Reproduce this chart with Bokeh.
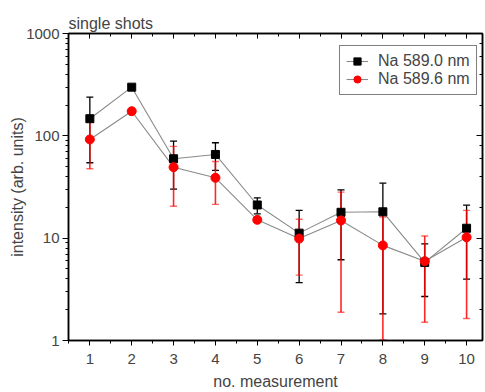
from bokeh.plotting import figure
from bokeh.models import (ColumnDataSource, Whisker, TeeHead, LogAxis, LinearAxis,
                          FixedTicker, NumeralTickFormatter, Legend, LegendItem, LogTicker,
                          CustomJSTickFormatter)
from bokeh.embed import file_html
from bokeh.resources import INLINE

# ---- data ----
measurement = [1, 2, 3, 4, 5, 6, 7, 8, 9, 10]
na_5890 = [147, 299, 59.7, 65.8, 21.1, 11.2, 17.9, 18.1, 5.8, 12.5]
na_5896 = [92.2, 174, 49.4, 38.9, 15.1, 9.9, 14.9, 8.5, 5.96, 10.2]

err_x_5890 = [1, 3, 4, 5, 6, 7, 8, 9, 10]
err_hi_5890 = [239, 88.8, 85.6, 24.8, 18.7, 29.7, 34.5, 8.8, 21.0]
err_lo_5890 = [54.6, 30.1, 45.9, 17.3, 3.67, 6.15, 1.82, 2.69, 3.98]

err_x_5896 = [1, 3, 4, 6, 7, 8, 9, 10]
err_hi_5896 = [136, 78.8, 56.2, 15.3, 28.2, 16.1, 10.5, 18.7]
err_lo_5896 = [47.7, 20.5, 21.4, 4.35, 1.89, 1.01, 1.51, 1.64]

x_ticks = [1, 2, 3, 4, 5, 6, 7, 8, 9, 10]
x_minor = [0.5, 1.5, 2.5, 3.5, 4.5, 5.5, 6.5, 7.5, 8.5, 9.5, 10.5]

title_text = "single shots"
x_label = "no. measurement"
y_label = "intensity (arb. units)"
labels = ["Na 589.0 nm", "Na 589.6 nm"]

FONT = "Liberation Sans"

p = figure(width=485, height=392, output_backend="svg", toolbar_location=None,
           y_axis_type="log", x_range=(0.49, 10.38), y_range=(1, 1000),
           min_border_left=68, min_border_right=3, min_border_top=33, min_border_bottom=52,
           title=title_text)

p.title.text_font = FONT
p.title.text_font_size = "16px"
p.title.text_font_style = "normal"
p.title.align = "left"
p.title.standoff = 3
p.title.offset = 0

p.xgrid.visible = False
p.ygrid.visible = False
p.outline_line_color = "black"
p.outline_line_width = 1.5

ticker_x = FixedTicker(ticks=x_ticks, minor_ticks=x_minor)

xa = p.xaxis[0]
xa.ticker = ticker_x
xa.axis_label = x_label
xa.axis_label_text_font = FONT
xa.axis_label_text_font_size = "16px"
xa.axis_label_text_font_style = "normal"
xa.major_label_text_font = FONT
xa.major_label_text_font_size = "15px"
xa.major_tick_out = 5
xa.major_tick_in = 0
xa.minor_tick_out = 3
xa.minor_tick_in = 0
xa.major_label_standoff = 8
xa.axis_label_standoff = 6
xa.axis_line_width = 1.5
xa.axis_line_color = "black"

ya = p.yaxis[0]
ya.axis_label = y_label
ya.formatter = NumeralTickFormatter(format="0")
ya.axis_label_text_font = FONT
ya.axis_label_text_font_size = "16px"
ya.axis_label_text_font_style = "normal"
ya.major_label_text_font = FONT
ya.major_label_text_font_size = "15px"
ya.major_tick_out = 6
ya.major_tick_in = 0
ya.minor_tick_out = 3
ya.minor_tick_in = 0
ya.major_label_standoff = 3
ya.axis_label_standoff = -3
ya.axis_line_width = 1.5
ya.axis_line_color = "black"

blank = CustomJSTickFormatter(code="return ''")

top_axis = LinearAxis(ticker=ticker_x, formatter=blank, major_label_text_font_size="1px",
                      major_tick_in=5, major_tick_out=0, minor_tick_in=3, minor_tick_out=0,
                      major_label_standoff=0, axis_line_width=1.5)
p.add_layout(top_axis, "above")

right_axis = LogAxis(ticker=LogTicker(), formatter=blank, major_label_text_font_size="1px",
                     major_tick_in=6, major_tick_out=0, minor_tick_in=3, minor_tick_out=0,
                     major_label_standoff=0, axis_line_width=1.5)
p.add_layout(right_axis, "right")

src_a = ColumnDataSource(dict(x=measurement, y=na_5890))
src_b = ColumnDataSource(dict(x=measurement, y=na_5896))
err_a = ColumnDataSource(dict(x=err_x_5890, hi=err_hi_5890, lo=err_lo_5890))
err_b = ColumnDataSource(dict(x=err_x_5896, hi=err_hi_5896, lo=err_lo_5896))

line_a = p.line("x", "y", source=src_a, line_color="#8a8a8a", line_width=1.1)
line_b = p.line("x", "y", source=src_b, line_color="#8a8a8a", line_width=1.1)

wa = Whisker(base="x", upper="hi", lower="lo", source=err_a,
             line_color="black", line_width=1.3,
             upper_head=TeeHead(size=7, line_color="black", line_width=1.3),
             lower_head=TeeHead(size=7, line_color="black", line_width=1.3))
p.add_layout(wa)

mark_a = p.scatter("x", "y", source=src_a, marker="square", size=8, fill_color="black",
                   line_color="black")

wb = Whisker(base="x", upper="hi", lower="lo", source=err_b,
             line_color="red", line_width=1.6, line_alpha=0.85,
             upper_head=TeeHead(size=7, line_color="red", line_width=1.4, line_alpha=0.6),
             lower_head=TeeHead(size=7, line_color="red", line_width=1.4, line_alpha=0.6))
p.add_layout(wb)

mark_b = p.scatter("x", "y", source=src_b, marker="circle", size=9, fill_color="red",
                   line_color="red")

legend = Legend(items=[LegendItem(label=labels[0], renderers=[line_a, mark_a]),
                       LegendItem(label=labels[1], renderers=[line_b, mark_b])],
                location=(271, 245))
legend.label_text_font = FONT
legend.label_text_font_size = "16px"
legend.border_line_color = "black"
legend.border_line_width = 1
legend.background_fill_alpha = 1
legend.padding = 6
legend.spacing = 0
legend.margin = 0
legend.glyph_width = 22
legend.glyph_height = 18
legend.label_height = 18
legend.label_standoff = 10
p.add_layout(legend, "center")

open("out.html", "w").write(file_html(p, INLINE))
